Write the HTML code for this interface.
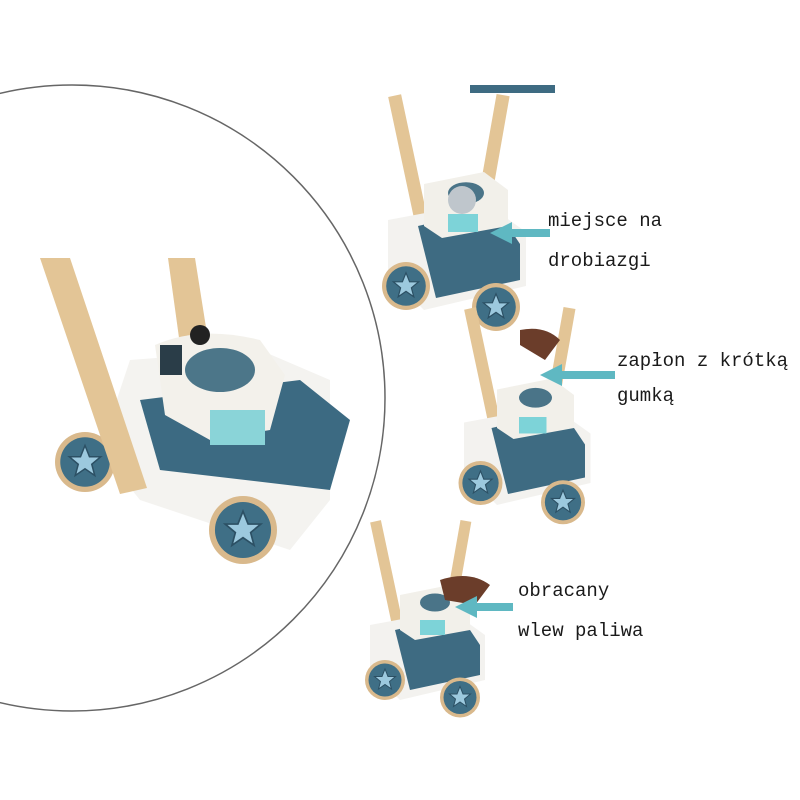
<!DOCTYPE html>
<html><head><meta charset="utf-8"><style>
html,body{margin:0;padding:0;background:#fff;width:800px;height:800px;overflow:hidden}
text{font-family:"Liberation Mono","DejaVu Sans Mono",monospace;font-size:19px;fill:#1a1a1a}
</style></head><body>
<svg width="800" height="800" viewBox="0 0 800 800" xmlns="http://www.w3.org/2000/svg">
<defs>
<g id="wheel"><circle r="40" fill="#d9b98c"/><circle r="33" fill="#3f6f86"/><polygon points="0,-22 6,-7 21,-7 9,3 13,18 0,9 -13,18 -9,3 -21,-7 -6,-7" fill="#9cc9de" stroke="#2c5064" stroke-width="2"/></g>
<g id="mower">
<rect x="-95" y="-260" width="22" height="240" fill="#e3c596" transform="rotate(-12 -84 -140)"/>
<rect x="40" y="-260" width="22" height="240" fill="#e3c596" transform="rotate(10 51 -140)"/>
<path d="M-120,-50 L40,-80 L110,-30 L110,60 L-60,100 L-120,40 Z" fill="#f3f2ef"/>
<path d="M-70,-40 L60,-70 L100,-10 L100,50 L-40,80 Z" fill="#3e6b82"/>
<path d="M-60,-110 L40,-130 L80,-100 L80,-40 L-30,-20 L-60,-40 Z" fill="#f2f0ea"/>
<ellipse cx="10" cy="-95" rx="30" ry="18" fill="#4a7488"/>
<rect x="-20" y="-60" width="50" height="30" fill="#7dd3d8"/>
<use href="#wheel" x="-90" y="60"/>
<use href="#wheel" x="60" y="95"/>
</g>
</defs>
<circle cx="72" cy="398" r="313" fill="none" stroke="#666" stroke-width="1.5"/>
<!-- big mower -->
<polygon points="168,258 195,258 208,340 180,345" fill="#e3c596"/>
<path d="M130,360 L260,350 L330,380 L330,500 L290,550 L140,500 L100,450 Z" fill="#f4f3f0"/>
<path d="M140,400 L300,380 L350,420 L330,490 L160,470 Z" fill="#3c6a82"/>
<path d="M155,345 Q200,325 260,340 L285,375 L270,430 L210,440 L165,415 Z" fill="#f3f1eb"/>
<ellipse cx="220" cy="370" rx="35" ry="22" fill="#4c7689"/>
<rect x="210" y="410" width="55" height="35" fill="#8ad4d8"/>
<rect x="160" y="345" width="22" height="30" fill="#2a3d48"/>
<circle cx="200" cy="335" r="10" fill="#222"/>
<g transform="translate(85,462) scale(0.75)"><use href="#wheel"/></g>
<polygon points="40,258 70,258 147,488 120,494" fill="#e3c596"/>
<g transform="translate(243,530) scale(0.85)"><use href="#wheel"/></g>
<!-- small mowers -->
<g transform="translate(460,250) scale(0.6)"><use href="#mower"/></g>
<rect x="470" y="85" width="85" height="8" fill="#3e6b82"/>
<circle cx="462" cy="200" r="14" fill="#bfc6cc"/>
<g transform="translate(530,450) scale(0.55)"><use href="#mower"/></g>
<path d="M520,330 Q545,325 560,340 L545,360 L520,345 Z" fill="#6b3d2a"/>
<g transform="translate(430,650) scale(0.5)"><use href="#mower"/></g>
<path d="M440,580 Q470,570 490,585 L475,605 L445,600 Z" fill="#6b3d2a"/>
<!-- arrows -->
<g fill="#5fb8c2" stroke="none">
<rect x="510" y="229" width="40" height="8"/><polygon points="490,233 512,222 512,244"/>
<rect x="560" y="371" width="55" height="8"/><polygon points="540,375 562,364 562,386"/>
<rect x="475" y="603" width="38" height="8"/><polygon points="455,607 477,596 477,618"/>
</g>
<text x="548" y="226">miejsce na</text>
<text x="548" y="266">drobiazgi</text>
<text x="617" y="366">zapłon z krótką</text>
<text x="617" y="401">gumką</text>
<text x="518" y="596">obracany</text>
<text x="518" y="636">wlew paliwa</text>
</svg>
</body></html>
